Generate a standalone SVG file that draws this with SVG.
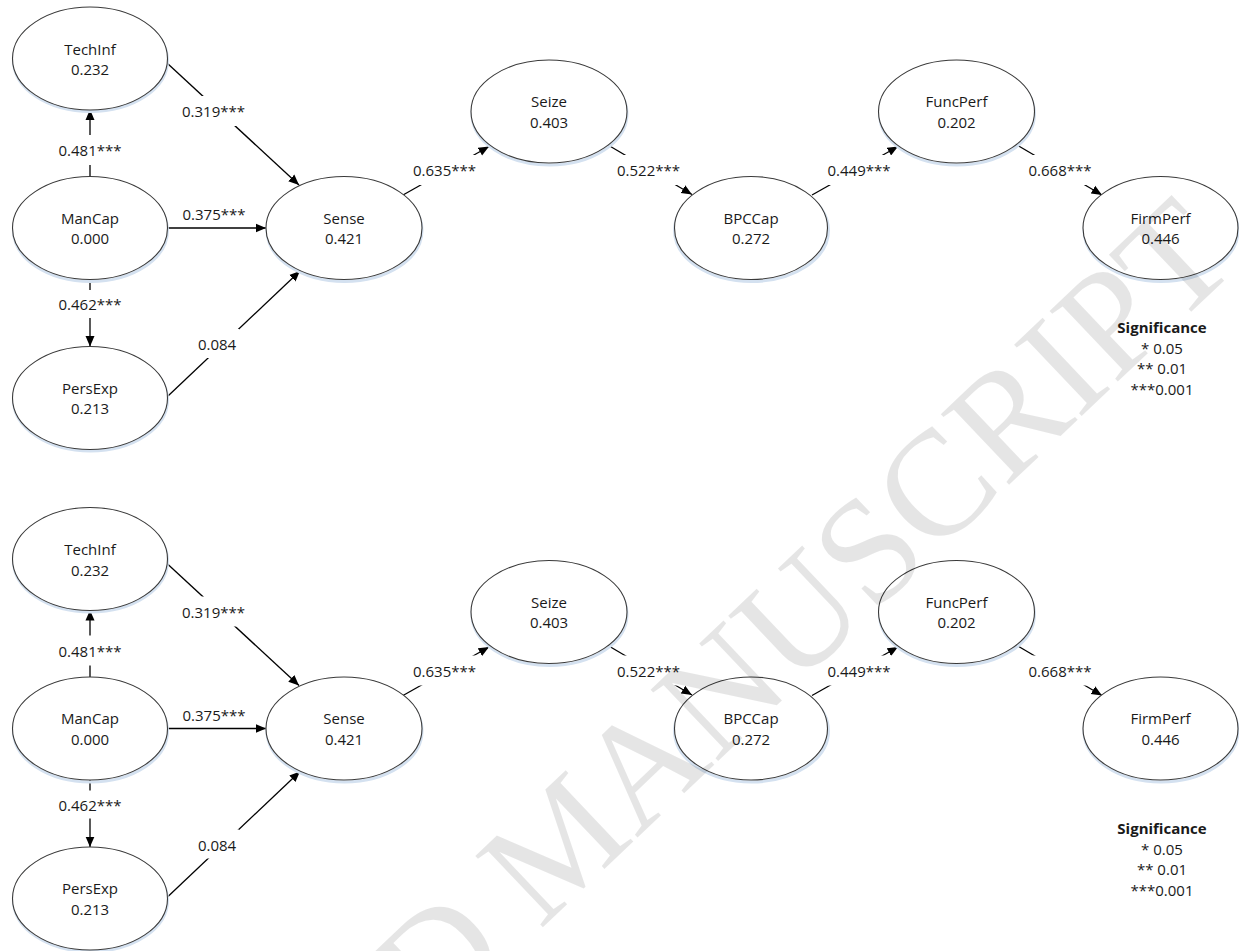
<svg xmlns="http://www.w3.org/2000/svg" width="1239" height="951" viewBox="0 0 1239 951">
<style>
  .nd { fill: #ffffff; stroke: #3a3a3a; stroke-width: 1.1; }
  .sh { fill: none; stroke: #d4e1f0; stroke-width: 3; }
  .tx { font-family: "Open Sans", Lato, "Liberation Sans", sans-serif; font-size: 15px; fill: #1a1a1a; text-anchor: middle; }
  .bd { font-weight: bold; }
  .ln { stroke: #000000; stroke-width: 1.3; fill: none; }
  .ar { marker-end: url(#arr); }
  .bg { fill: #ffffff; }
  .wm { font-family: "Liberation Serif", "Times New Roman", serif; font-size: 150px; fill: #000000; fill-opacity: 0.1; }
</style>
<defs>
  <marker id="arr" markerUnits="userSpaceOnUse" markerWidth="11" markerHeight="10" refX="10.5" refY="5" orient="auto">
    <path d="M0,0.5 L10.5,5 L0,9.5 z" fill="#000000"/>
  </marker>
</defs>
<rect x="0" y="0" width="1239" height="951" fill="#ffffff"/>

<!-- ===== Top model ===== -->
<g id="top-model">
  <g id="connectors-top">
    <line class="ln ar" x1="90" y1="176.5" x2="90" y2="109.5"/>
    <line class="ln ar" x1="167" y1="63" x2="299" y2="185"/>
    <line class="ln ar" x1="167.5" y1="228" x2="266" y2="228"/>
    <line class="ln ar" x1="90" y1="279.5" x2="90" y2="346.5"/>
    <line class="ln ar" x1="168" y1="396" x2="300" y2="271"/>
    <line class="ln ar" x1="403" y1="195" x2="489" y2="146.5"/>
    <line class="ln ar" x1="608" y1="145" x2="692" y2="194.5"/>
    <line class="ln ar" x1="812" y1="195" x2="898" y2="146.5"/>
    <line class="ln ar" x1="1017" y1="145" x2="1102" y2="195"/>
    <rect class="bg" x="57" y="135" width="66" height="30"/>
    <text class="tx" x="90" y="156">0.481***</text>
    <rect class="bg" x="181" y="96" width="66" height="30"/>
    <text class="tx" x="213.5" y="117">0.319***</text>
    <text class="tx" x="214" y="220">0.375***</text>
    <rect class="bg" x="57" y="290" width="66" height="28"/>
    <text class="tx" x="90" y="310">0.462***</text>
    <rect class="bg" x="195" y="329" width="44" height="29"/>
    <text class="tx" x="217" y="350">0.084</text>
    <rect class="bg" x="411" y="155" width="67" height="30"/>
    <text class="tx" x="444.5" y="176">0.635***</text>
    <rect class="bg" x="615" y="155" width="67" height="30"/>
    <text class="tx" x="648.5" y="176">0.522***</text>
    <rect class="bg" x="825" y="155" width="67" height="30"/>
    <text class="tx" x="859" y="176">0.449***</text>
    <rect class="bg" x="1026" y="155" width="67" height="30"/>
    <text class="tx" x="1060" y="176">0.668***</text>
  </g>
  <g id="TechInf1"><ellipse class="sh" cx="90.5" cy="60.5" rx="77" ry="51"/><ellipse class="nd" cx="90" cy="58.5" rx="77.5" ry="51.5"/><text class="tx" x="90" y="54.5">TechInf</text><text class="tx" x="90" y="75">0.232</text></g>
  <g id="ManCap1"><ellipse class="sh" cx="90.5" cy="230.5" rx="77" ry="51"/><ellipse class="nd" cx="90" cy="228" rx="77.5" ry="51.5"/><text class="tx" x="90" y="223.5">ManCap</text><text class="tx" x="90" y="244">0.000</text></g>
  <g id="PersExp1"><ellipse class="sh" cx="90.5" cy="400" rx="77" ry="51"/><ellipse class="nd" cx="90" cy="398" rx="77.5" ry="51.5"/><text class="tx" x="90" y="393.5">PersExp</text><text class="tx" x="90" y="414">0.213</text></g>
  <g id="Sense1"><ellipse class="sh" cx="344.5" cy="230.5" rx="77.5" ry="51"/><ellipse class="nd" cx="344" cy="228" rx="78" ry="51.5"/><text class="tx" x="344" y="223.5">Sense</text><text class="tx" x="344" y="244">0.421</text></g>
  <g id="Seize1"><ellipse class="sh" cx="549.5" cy="114" rx="77.5" ry="51"/><ellipse class="nd" cx="549" cy="111.5" rx="78" ry="51.5"/><text class="tx" x="549" y="107">Seize</text><text class="tx" x="549" y="127.5">0.403</text></g>
  <g id="BPCCap1"><ellipse class="sh" cx="751.5" cy="230.5" rx="77" ry="51"/><ellipse class="nd" cx="751" cy="228" rx="76.5" ry="51.5"/><text class="tx" x="751" y="223.5">BPCCap</text><text class="tx" x="751" y="244">0.272</text></g>
  <g id="FuncPerf1"><ellipse class="sh" cx="957" cy="114" rx="77.5" ry="51"/><ellipse class="nd" cx="956.5" cy="111.5" rx="78" ry="51.5"/><text class="tx" x="956.5" y="107">FuncPerf</text><text class="tx" x="956.5" y="127.5">0.202</text></g>
  <g id="FirmPerf1"><ellipse class="sh" cx="1161" cy="230.5" rx="77" ry="51"/><ellipse class="nd" cx="1160.5" cy="228" rx="77.5" ry="51.5"/><text class="tx" x="1160.5" y="223.5">FirmPerf</text><text class="tx" x="1160.5" y="244">0.446</text></g>
  <g id="Significance1">
    <text class="tx bd" x="1162" y="333">Significance</text>
    <text class="tx" x="1162" y="354">* 0.05</text>
    <text class="tx" x="1162" y="374">** 0.01</text>
    <text class="tx" x="1162" y="395">***0.001</text>
  </g>
</g>

<!-- ===== Bottom model ===== -->
<g id="bottom-model" transform="translate(0,500.5)">
  <g id="connectors-bottom">
    <line class="ln ar" x1="90" y1="176.5" x2="90" y2="109.5"/>
    <line class="ln ar" x1="167" y1="63" x2="299" y2="185"/>
    <line class="ln ar" x1="167.5" y1="228" x2="266" y2="228"/>
    <line class="ln ar" x1="90" y1="279.5" x2="90" y2="346.5"/>
    <line class="ln ar" x1="168" y1="396" x2="300" y2="271"/>
    <line class="ln ar" x1="403" y1="195" x2="489" y2="146.5"/>
    <line class="ln ar" x1="608" y1="145" x2="692" y2="194.5"/>
    <line class="ln ar" x1="812" y1="195" x2="898" y2="146.5"/>
    <line class="ln ar" x1="1017" y1="145" x2="1102" y2="195"/>
    <rect class="bg" x="57" y="135" width="66" height="30"/>
    <text class="tx" x="90" y="156">0.481***</text>
    <rect class="bg" x="181" y="96" width="66" height="30"/>
    <text class="tx" x="213.5" y="117">0.319***</text>
    <text class="tx" x="214" y="220">0.375***</text>
    <rect class="bg" x="57" y="290" width="66" height="28"/>
    <text class="tx" x="90" y="310">0.462***</text>
    <rect class="bg" x="195" y="329" width="44" height="29"/>
    <text class="tx" x="217" y="350">0.084</text>
    <rect class="bg" x="411" y="155" width="67" height="30"/>
    <text class="tx" x="444.5" y="176">0.635***</text>
    <rect class="bg" x="615" y="155" width="67" height="30"/>
    <text class="tx" x="648.5" y="176">0.522***</text>
    <rect class="bg" x="825" y="155" width="67" height="30"/>
    <text class="tx" x="859" y="176">0.449***</text>
    <rect class="bg" x="1026" y="155" width="67" height="30"/>
    <text class="tx" x="1060" y="176">0.668***</text>
  </g>
  <g id="TechInf2"><ellipse class="sh" cx="90.5" cy="60.5" rx="77" ry="51"/><ellipse class="nd" cx="90" cy="58.5" rx="77.5" ry="51.5"/><text class="tx" x="90" y="54.5">TechInf</text><text class="tx" x="90" y="75">0.232</text></g>
  <g id="ManCap2"><ellipse class="sh" cx="90.5" cy="230.5" rx="77" ry="51"/><ellipse class="nd" cx="90" cy="228" rx="77.5" ry="51.5"/><text class="tx" x="90" y="223.5">ManCap</text><text class="tx" x="90" y="244">0.000</text></g>
  <g id="PersExp2"><ellipse class="sh" cx="90.5" cy="400" rx="77" ry="51"/><ellipse class="nd" cx="90" cy="398" rx="77.5" ry="51.5"/><text class="tx" x="90" y="393.5">PersExp</text><text class="tx" x="90" y="414">0.213</text></g>
  <g id="Sense2"><ellipse class="sh" cx="344.5" cy="230.5" rx="77.5" ry="51"/><ellipse class="nd" cx="344" cy="228" rx="78" ry="51.5"/><text class="tx" x="344" y="223.5">Sense</text><text class="tx" x="344" y="244">0.421</text></g>
  <g id="Seize2"><ellipse class="sh" cx="549.5" cy="114" rx="77.5" ry="51"/><ellipse class="nd" cx="549" cy="111.5" rx="78" ry="51.5"/><text class="tx" x="549" y="107">Seize</text><text class="tx" x="549" y="127.5">0.403</text></g>
  <g id="BPCCap2"><ellipse class="sh" cx="751.5" cy="230.5" rx="77" ry="51"/><ellipse class="nd" cx="751" cy="228" rx="76.5" ry="51.5"/><text class="tx" x="751" y="223.5">BPCCap</text><text class="tx" x="751" y="244">0.272</text></g>
  <g id="FuncPerf2"><ellipse class="sh" cx="957" cy="114" rx="77.5" ry="51"/><ellipse class="nd" cx="956.5" cy="111.5" rx="78" ry="51.5"/><text class="tx" x="956.5" y="107">FuncPerf</text><text class="tx" x="956.5" y="127.5">0.202</text></g>
  <g id="FirmPerf2"><ellipse class="sh" cx="1161" cy="230.5" rx="77" ry="51"/><ellipse class="nd" cx="1160.5" cy="228" rx="77.5" ry="51.5"/><text class="tx" x="1160.5" y="223.5">FirmPerf</text><text class="tx" x="1160.5" y="244">0.446</text></g>
  <g id="Significance2">
    <text class="tx bd" x="1162" y="333">Significance</text>
    <text class="tx" x="1162" y="354">* 0.05</text>
    <text class="tx" x="1162" y="374">** 0.01</text>
    <text class="tx" x="1162" y="395">***0.001</text>
  </g>
</g>

<!-- watermark -->
<text class="wm" transform="translate(540,930) rotate(-43.5)" x="-813" y="0">ACCEPTED MANUSCRIPT</text>
</svg>
